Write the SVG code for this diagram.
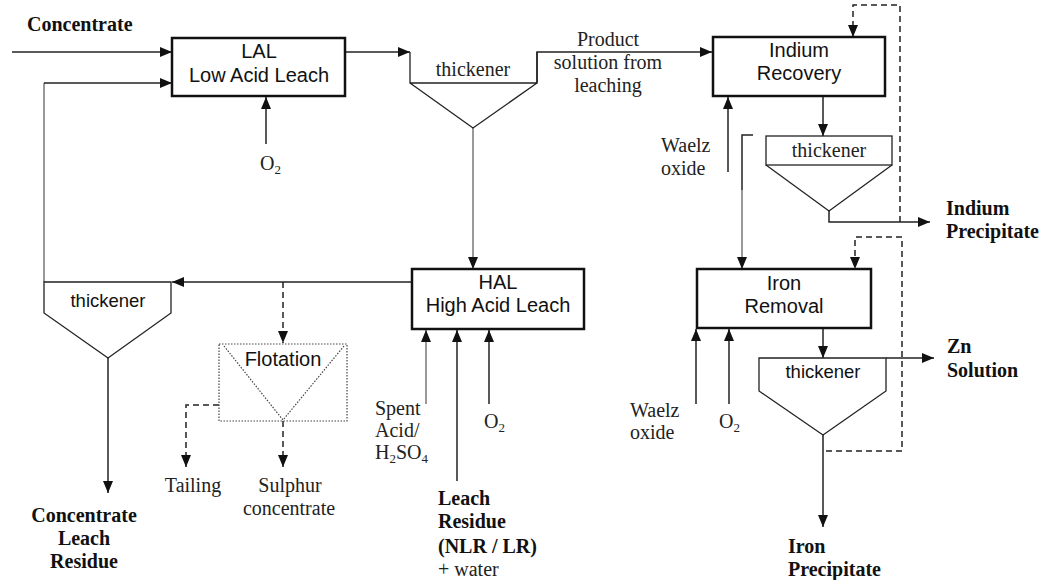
<svg xmlns="http://www.w3.org/2000/svg" width="1040" height="580" viewBox="0 0 1040 580">
<style>
.box{fill:#fff;stroke:#111;stroke-width:2.5}
.tank{fill:none;stroke:#222;stroke-width:1.3}
.ln{fill:none;stroke:#222;stroke-width:1.5}
.gray{fill:none;stroke:#999;stroke-width:2}
.dash{fill:none;stroke:#222;stroke-width:1.5;stroke-dasharray:6,4}
.dot{fill:none;stroke:#444;stroke-width:1.2;stroke-dasharray:1.5,1.5}
.sans{font-family:"Liberation Sans",Arial,sans-serif;font-size:20px;fill:#111}
.serif{font-family:"Liberation Serif","Times New Roman",serif;font-size:20px;fill:#222}
.bold{font-family:"Liberation Serif","Times New Roman",serif;font-size:20px;font-weight:bold;fill:#111}
.mid{text-anchor:middle}
.sub{font-size:13px}
</style>
<defs>
<marker id="ah" markerUnits="userSpaceOnUse" markerWidth="12" markerHeight="10" refX="12" refY="5" orient="auto">
<path d="M0,0 L12,5 L0,10 Z" fill="#111"/>
</marker>
</defs>

<g id="connectors">
<line class="ln" x1="12" y1="52" x2="172" y2="52" marker-end="url(#ah)"/>
<path class="gray" d="M44,282 V83"/>
<path class="ln" d="M44,83 H172" marker-end="url(#ah)"/>
<line class="ln" x1="266" y1="144" x2="266" y2="97" marker-end="url(#ah)"/>
<line class="ln" x1="345" y1="52" x2="410" y2="52" marker-end="url(#ah)"/>
<path class="ln" d="M537,83 V52 H712" marker-end="url(#ah)"/>
<line class="gray" x1="473" y1="128" x2="473" y2="269" marker-end="url(#ah)"/>
<line class="ln" x1="412" y1="282" x2="172" y2="282" marker-end="url(#ah)"/>
<line class="dash" x1="283" y1="282" x2="283" y2="343" marker-end="url(#ah)"/>
<path class="dash" d="M219,405 H186 V467" marker-end="url(#ah)"/>
<line class="dash" x1="283" y1="421" x2="283" y2="467" marker-end="url(#ah)"/>
<line class="ln" x1="108" y1="358" x2="108" y2="493" marker-end="url(#ah)"/>
<line class="gray" x1="426" y1="404" x2="426" y2="330" marker-end="url(#ah)"/>
<line class="ln" x1="457" y1="481" x2="457" y2="330" marker-end="url(#ah)"/>
<line class="ln" x1="489" y1="404" x2="489" y2="330" marker-end="url(#ah)"/>
<line class="ln" x1="728" y1="172" x2="728" y2="97" marker-end="url(#ah)"/>
<line class="ln" x1="823" y1="97" x2="823" y2="136" marker-end="url(#ah)"/>
<path class="ln" d="M829,211 V222 H930" marker-end="url(#ah)"/>
<path class="dash" d="M900,222 V5 H853 V37" marker-end="url(#ah)"/>
<path class="ln" d="M753,135 H742 V190"/>
<path class="gray" d="M742,190 V269" marker-end="url(#ah)"/>
<path class="dash" d="M826,451 H902 V237 H855 V269" marker-end="url(#ah)"/>
<line class="ln" x1="823" y1="329" x2="823" y2="358" marker-end="url(#ah)"/>
<line class="ln" x1="886" y1="358" x2="934" y2="358" marker-end="url(#ah)"/>
<line class="ln" x1="696" y1="404" x2="696" y2="329" marker-end="url(#ah)"/>
<line class="ln" x1="729" y1="404" x2="729" y2="329" marker-end="url(#ah)"/>
<line class="ln" x1="823" y1="435" x2="823" y2="527" marker-end="url(#ah)"/>
</g>

<g id="lal">
<rect class="box" x="172" y="38" width="173" height="58"/>
<text class="sans mid" x="259" y="58">LAL</text>
<text class="sans mid" x="259" y="82">Low Acid Leach</text>
</g>

<g id="thickener1">
<path class="tank" d="M410,52 V83 H537 V52 M410,83 L473,128 L537,83"/>
<text class="serif mid" x="473" y="76">thickener</text>
</g>

<g id="indium-recovery">
<rect class="box" x="713" y="37" width="172" height="59"/>
<text class="sans mid" x="799" y="57">Indium</text>
<text class="sans mid" x="799" y="80">Recovery</text>
</g>

<g id="thickener2">
<rect class="tank" x="766" y="136" width="126" height="29"/>
<path class="tank" d="M766,165 L829,211 L892,165"/>
<text class="serif mid" x="829" y="157">thickener</text>
</g>

<g id="hal">
<rect class="box" x="412" y="269" width="172" height="60"/>
<text class="sans mid" x="498" y="289">HAL</text>
<text class="sans mid" x="498" y="312">High Acid Leach</text>
</g>

<g id="thickener3">
<path class="tank" d="M44,282 H171 V313 L108,358 L44,313 Z"/>
<text class="sans mid" x="108" y="307" style="font-size:18.5px">thickener</text>
</g>

<g id="flotation">
<rect class="dot" x="219" y="344" width="128" height="77"/>
<path class="dot" d="M224,346 L283,420 L344,346"/>
<text class="sans mid" x="283" y="366">Flotation</text>
</g>

<g id="iron-removal">
<rect class="box" x="697" y="269" width="174" height="59"/>
<text class="sans mid" x="784" y="290">Iron</text>
<text class="sans mid" x="784" y="313">Removal</text>
</g>

<g id="thickener4">
<path class="tank" d="M759,358 H886 V391 L823,435 L759,391 Z"/>
<text class="sans mid" x="823" y="378" style="font-size:18.5px">thickener</text>
</g>

<g id="labels">
<text class="bold" x="27" y="31">Concentrate</text>
<text class="serif" x="260" y="170">O<tspan class="sub" dy="4">2</tspan></text>
<text class="serif mid" x="608" y="46">Product</text>
<text class="serif mid" x="608" y="69">solution from</text>
<text class="serif mid" x="608" y="92">leaching</text>
<text class="serif" x="661" y="152">Waelz</text>
<text class="serif" x="661" y="175">oxide</text>
<text class="bold" x="946" y="215">Indium</text>
<text class="bold" x="946" y="238">Precipitate</text>
<text class="bold" x="947" y="353">Zn</text>
<text class="bold" x="947" y="377">Solution</text>
<text class="serif mid" x="193" y="492">Tailing</text>
<text class="serif mid" x="290" y="492">Sulphur</text>
<text class="serif mid" x="289" y="515">concentrate</text>
<text class="bold mid" x="84" y="522">Concentrate</text>
<text class="bold mid" x="84" y="545">Leach</text>
<text class="bold mid" x="84" y="568">Residue</text>
<text class="serif" x="375" y="415">Spent</text>
<text class="serif" x="375" y="437">Acid/</text>
<text class="serif" x="375" y="459">H<tspan class="sub" dy="4">2</tspan><tspan dy="-4">SO</tspan><tspan class="sub" dy="4">4</tspan></text>
<text class="serif" x="484" y="428">O<tspan class="sub" dy="4">2</tspan></text>
<text class="bold" x="438" y="505">Leach</text>
<text class="bold" x="438" y="528">Residue</text>
<text class="bold" x="438" y="553">(NLR / LR)</text>
<text class="serif" x="438" y="576">+ water</text>
<text class="serif" x="630" y="417">Waelz</text>
<text class="serif" x="630" y="439">oxide</text>
<text class="serif" x="719" y="428">O<tspan class="sub" dy="4">2</tspan></text>
<text class="bold" x="788" y="553">Iron</text>
<text class="bold" x="788" y="576">Precipitate</text>
</g>
</svg>
